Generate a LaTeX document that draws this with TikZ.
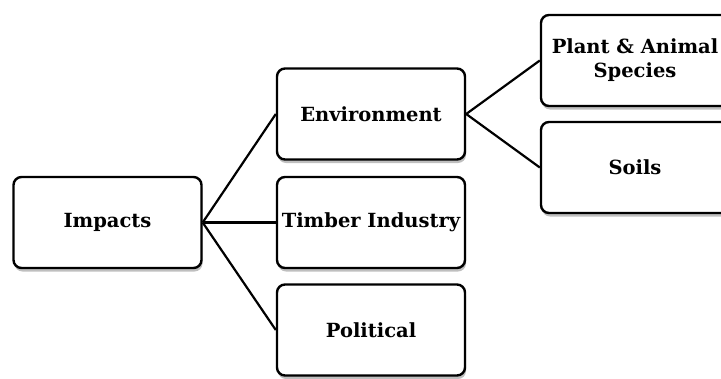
\documentclass[tikz,border=0pt]{standalone}
\usepackage{fontspec}
\setmainfont{DejaVu Serif}
\usetikzlibrary{shadows}

\begin{document}
\begin{tikzpicture}[x=1pt,y=-1pt,
  box/.style={draw, line width=2.4pt, rounded corners=8pt, fill=white,
    minimum width=188pt, minimum height=91pt, inner sep=1pt, align=center,
    font=\bfseries\fontsize{19.5}{24}\selectfont,
    drop shadow={shadow xshift=1pt, shadow yshift=-3.5pt, opacity=0.5, fill=gray}},
  link/.style={line width=2.2pt}]
\clip (0,0) rectangle (721,378);
\node[box] (imp) at (107.5,222.5) {Impacts};
\node[box] (env) at (371,114) {Environment};
\node[box] (tim) at (371,222.5) {Timber Industry};
\node[box] (pol) at (371,330) {Political};
\node[box] (pas) at (635,60.5) {Plant \& Animal\\Species};
\node[box] (soi) at (635,167.5) {Soils};

\draw[link] (node cs:name=imp, anchor=east) -- (node cs:name=env, anchor=west);
\draw[link] (node cs:name=imp, anchor=east) -- (node cs:name=tim, anchor=west);
\draw[link] (node cs:name=imp, anchor=east) -- (node cs:name=pol, anchor=west);
\draw[link] (node cs:name=env, anchor=east) -- (node cs:name=pas, anchor=west);
\draw[link] (node cs:name=env, anchor=east) -- (node cs:name=soi, anchor=west);
\end{tikzpicture}
\end{document}
